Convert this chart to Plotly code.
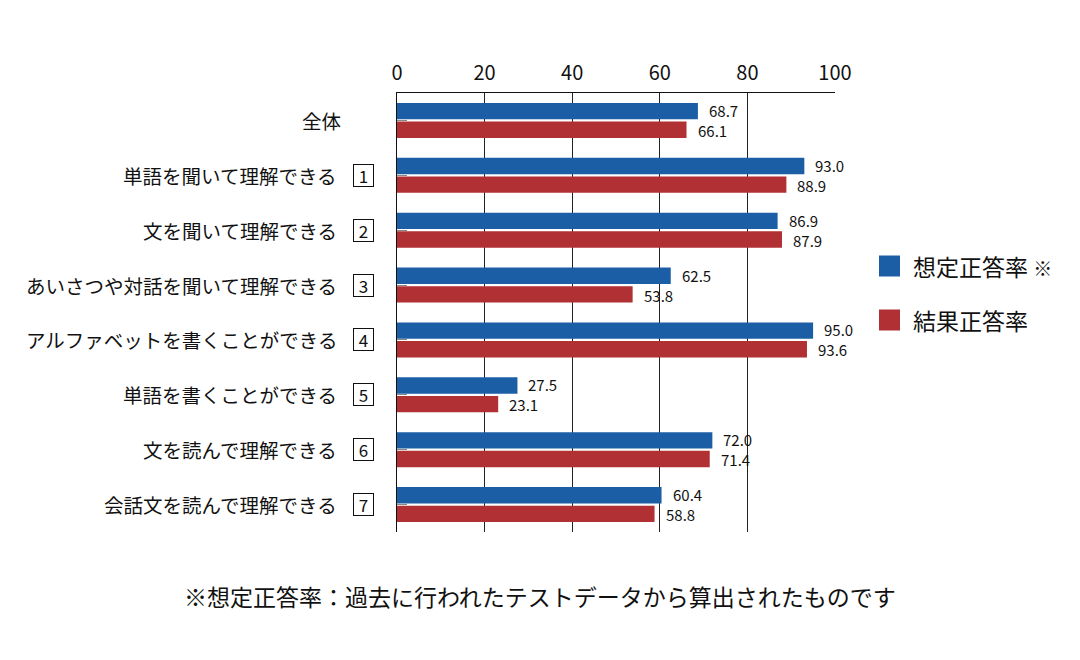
import plotly.graph_objects as go

categories = ["全体", "単語を聞いて理解できる", "文を聞いて理解できる", "あいさつや対話を聞いて理解できる",
              "アルファベットを書くことができる", "単語を書くことができる", "文を読んで理解できる", "会話文を読んで理解できる"]
box_numbers = ["", "1", "2", "3", "4", "5", "6", "7"]
expected = [68.7, 93.0, 86.9, 62.5, 95.0, 27.5, 72.0, 60.4]
actual = [66.1, 88.9, 87.9, 53.8, 93.6, 23.1, 71.4, 58.8]
series_names = ["想定正答率", "結果正答率"]
legend_suffix = ["※", ""]
x_ticks = [0, 20, 40, 60, 80, 100]
footnote = "※想定正答率：過去に行われたテストデータから算出されたものです"

BLUE = "#1c5ea6"
RED = "#b03033"
FONT = "Noto Sans CJK JP"
W, H = 1080, 660
OFF = 8  # page offset of the figure in the screenshot
# plot area in screenshot pixels: x 397..835, y 93..532
L = 397 - OFF
T = 93 - OFF
R = W - (835 - OFF)
B = H - (532 - OFF)
pw = W - L - R
ph = H - T - B

def px_to_paper_x(px):
    return (px - OFF - L) / pw

def px_to_paper_y(py):
    return 1 - (py - OFF - T) / ph

fig = go.Figure()
fig.add_trace(go.Bar(y=categories, x=expected, orientation="h", name=series_names[0],
                     marker=dict(color=BLUE, line=dict(width=0)), showlegend=False))
fig.add_trace(go.Bar(y=categories, x=actual, orientation="h", name=series_names[1],
                     marker=dict(color=RED, line=dict(width=0)), showlegend=False))

annotations = []
for cat, v1, v2 in zip(categories, expected, actual):
    annotations.append(dict(x=v1, y=cat, xref="x", yref="y", text=f"{v1:.1f}", showarrow=False,
                            xanchor="left", yanchor="middle", xshift=9, yshift=10,
                            font=dict(family=FONT, size=15, color="#111")))
    annotations.append(dict(x=v2, y=cat, xref="x", yref="y", text=f"{v2:.1f}", showarrow=False,
                            xanchor="left", yanchor="middle", xshift=9, yshift=-10,
                            font=dict(family=FONT, size=15, color="#111")))

for cat, num in zip(categories, box_numbers):
    if num:
        annotations.append(dict(x=px_to_paper_x(339), y=cat, xref="paper", yref="y", text=cat,
                                showarrow=False, xanchor="right", yanchor="middle",
                                font=dict(family=FONT, size=19.5, color="#111")))
        annotations.append(dict(x=px_to_paper_x(363.5), y=cat, xref="paper", yref="y", text=num,
                                showarrow=False, xanchor="center", yanchor="middle",
                                width=19, height=21, borderpad=0, bordercolor="#111", borderwidth=1,
                                font=dict(family=FONT, size=17, color="#111")))
    else:
        annotations.append(dict(x=px_to_paper_x(343), y=cat, xref="paper", yref="y", text=cat,
                                showarrow=False, xanchor="right", yanchor="middle",
                                font=dict(family=FONT, size=19.5, color="#111")))

# legend
shapes = []
leg_y = [266, 320]
for name, suf, col, yy in zip(series_names, legend_suffix, [BLUE, RED], leg_y):
    shapes.append(dict(type="rect", xref="paper", yref="paper",
                       x0=px_to_paper_x(879), x1=px_to_paper_x(900),
                       y0=px_to_paper_y(yy + 10.5), y1=px_to_paper_y(yy - 10.5),
                       fillcolor=col, line=dict(width=0)))
    txt = name + (f" <span style='font-size:19px'>{suf}</span>" if suf else "")
    annotations.append(dict(x=px_to_paper_x(911), y=px_to_paper_y(yy), xref="paper", yref="paper",
                            text=txt, showarrow=False, xanchor="left", yanchor="middle",
                            font=dict(family=FONT, size=23, color="#111")))

annotations.append(dict(x=px_to_paper_x(540), y=px_to_paper_y(596), xref="paper", yref="paper",
                        text=footnote, showarrow=False, xanchor="center", yanchor="middle",
                        font=dict(family=FONT, size=23, color="#111")))

fig.update_layout(
    width=W, height=H,
    margin=dict(l=L, r=R, t=T, b=B, pad=0),
    paper_bgcolor="white", plot_bgcolor="white",
    barmode="group", bargap=0.32, bargroupgap=0.12,
    annotations=annotations, shapes=shapes,
    font=dict(family=FONT, color="#111"),
    xaxis=dict(side="top", range=[0, 100], tickvals=x_ticks, ticktext=[str(t) for t in x_ticks],
               showgrid=True, gridcolor="#222", gridwidth=1, zeroline=False,
               showline=True, linecolor="#111", linewidth=1, ticks="",
               tickfont=dict(family=FONT, size=20, color="#111"), ticklabelstandoff=4),
    yaxis=dict(autorange="reversed", showticklabels=False, showgrid=False,
               showline=True, linecolor="#111", linewidth=1,
               ticks="inside", ticklen=10, tickcolor="#888", tickwidth=1),
)

fig.write_html("out.html")
